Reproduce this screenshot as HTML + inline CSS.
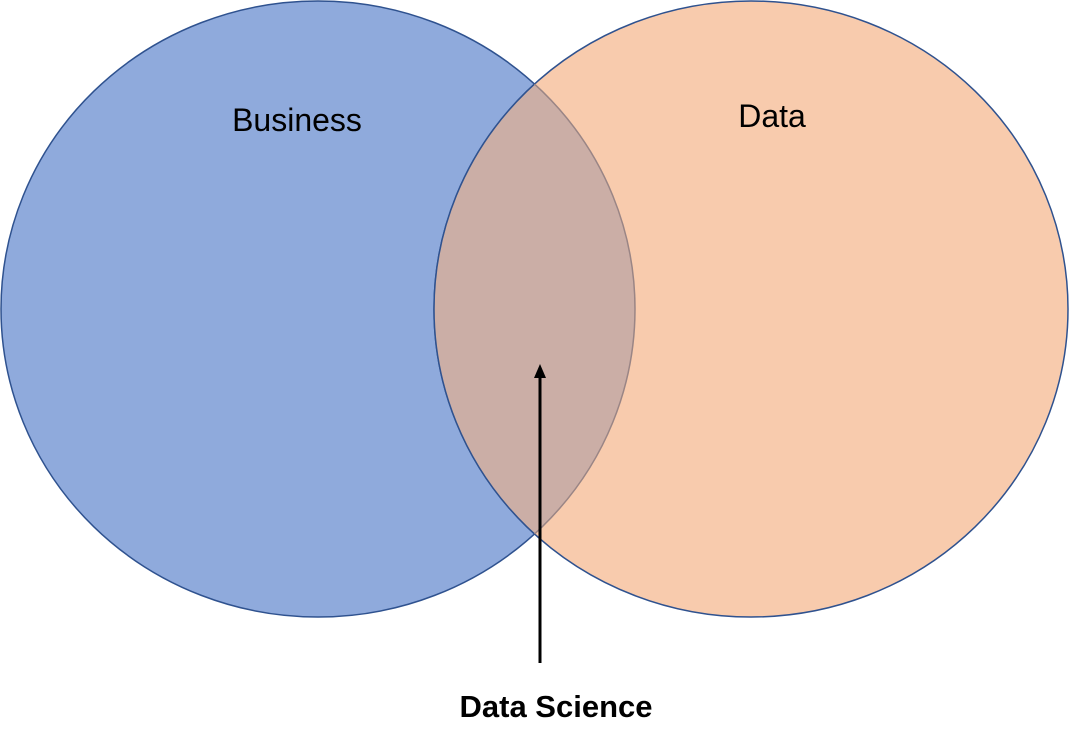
<!DOCTYPE html>
<html>
<head>
<meta charset="utf-8">
<style>
  html, body { margin: 0; padding: 0; background: #ffffff; }
  svg { display: block; }
  text { font-family: "Liberation Sans", "DejaVu Sans", sans-serif; }
</style>
</head>
<body>
<svg width="1069" height="750" viewBox="0 0 1069 750">
  <defs>
    <clipPath id="clipLeft">
      <ellipse cx="318" cy="309" rx="317" ry="308"/>
    </clipPath>
    <clipPath id="clipRight">
      <ellipse cx="751" cy="309" rx="317" ry="308"/>
    </clipPath>
  </defs>
  <ellipse cx="318" cy="309" rx="317" ry="308" fill="#8FAADC" stroke="#2F528F" stroke-width="1.5"/>
  <ellipse cx="751" cy="309" rx="317" ry="308" fill="#F8CBAD" stroke="#2F528F" stroke-width="1.5"/>
  <g clip-path="url(#clipLeft)">
    <ellipse cx="751" cy="309" rx="317" ry="308" fill="#CBAEA6" stroke="#2F528F" stroke-width="1.5"/>
  </g>
  <g clip-path="url(#clipRight)">
    <ellipse cx="318" cy="309" rx="317" ry="308" fill="none" stroke="#9A8585" stroke-width="1.5"/>
  </g>
  <text x="297" y="131" font-size="32" text-anchor="middle" fill="#000">Business</text>
  <text x="772" y="127" font-size="32" text-anchor="middle" fill="#000">Data</text>
  <line x1="540" y1="663" x2="540" y2="375" stroke="#000" stroke-width="3"/>
  <polygon points="540,364 534,378 546,378" fill="#000"/>
  <text x="556" y="717" font-size="31" font-weight="bold" text-anchor="middle" fill="#000">Data Science</text>
</svg>
</body>
</html>
